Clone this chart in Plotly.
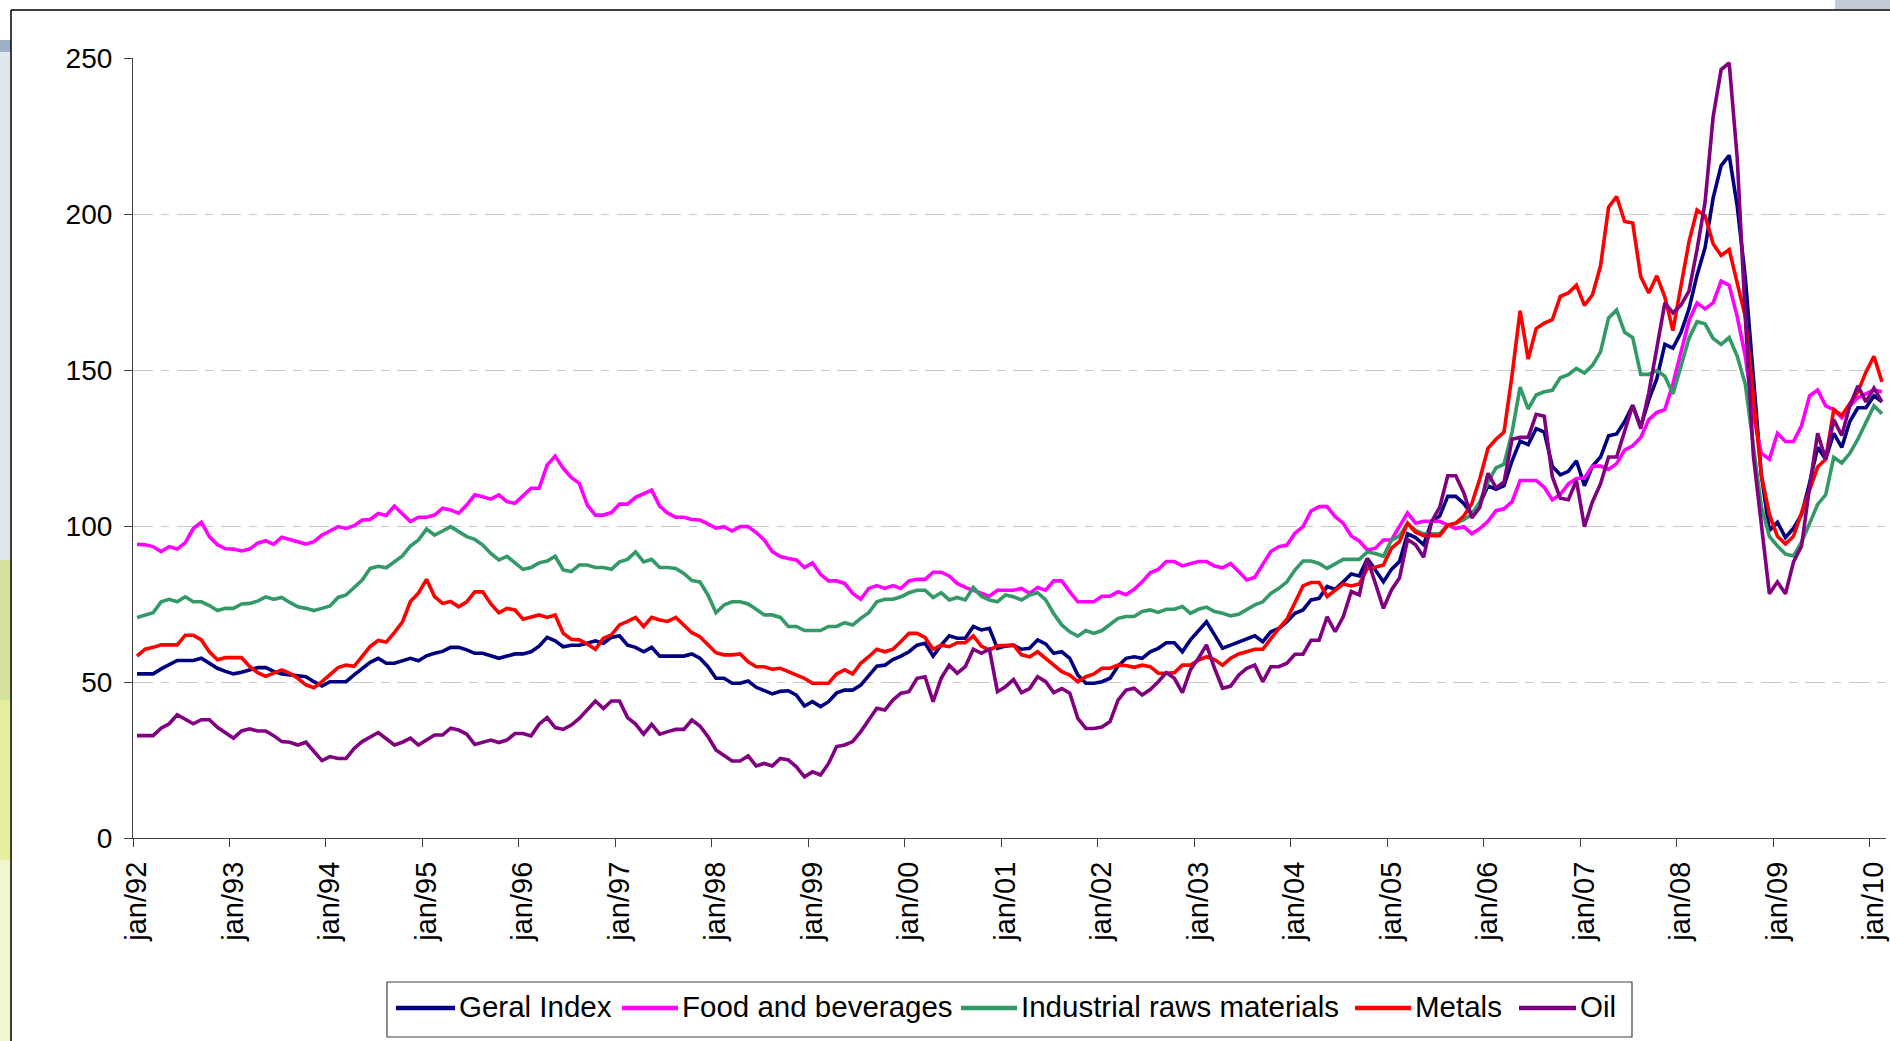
import plotly.graph_objects as go

# ---------------------------------------------------------------------------
# Monthly commodity price indices, jan/1992 - fev/2010
# ---------------------------------------------------------------------------
MONTHS_PT = ["jan", "fev", "mar", "abr", "mai", "jun",
             "jul", "ago", "set", "out", "nov", "dez"]
N_MONTHS = 218
periods = [f"{MONTHS_PT[k % 12]}/{(92 + k // 12) % 100:02d}" for k in range(N_MONTHS)]

geral_index = [
    52.6, 52.6, 52.6, 54.2, 55.5, 56.9, 56.9, 56.9, 57.6, 56.0, 54.4, 53.4,
    52.6, 53.1, 53.9, 54.6, 54.6, 53.4, 52.6, 52.3, 51.9, 51.7, 50.1, 48.7,
    50.1, 50.1, 50.1, 52.3, 54.4, 56.3, 57.6, 56.0, 56.0, 56.9, 57.6, 56.8,
    58.4, 59.2, 59.8, 61.1, 61.1, 60.3, 59.2, 59.2, 58.3, 57.6, 58.3, 59.0,
    59.0, 59.7, 61.5, 64.3, 63.2, 61.3, 61.8, 61.8, 62.4, 63.2, 62.4, 64.3,
    64.8, 61.8, 61.1, 59.7, 61.1, 58.3, 58.3, 58.3, 58.3, 59.0, 57.6, 54.9,
    51.2, 51.2, 49.6, 49.6, 50.3, 48.3, 47.2, 46.2, 47.0, 47.2, 45.8, 42.3,
    43.7, 42.1, 43.7, 46.5, 47.4, 47.4, 49.0, 52.2, 55.1, 55.4, 57.2, 58.3,
    59.7, 61.8, 62.4, 58.3, 61.8, 64.8, 64.0, 64.0, 67.8, 66.7, 67.2, 60.8,
    61.5, 61.8, 60.5, 60.8, 63.5, 62.2, 59.2, 59.7, 57.6, 52.2, 49.6, 49.6,
    50.1, 51.2, 55.1, 57.6, 58.1, 57.6, 59.7, 60.8, 62.6, 62.6, 59.7, 63.5,
    66.5, 69.3, 65.1, 60.8, 61.8, 62.9, 63.7, 64.8, 62.9, 66.1, 67.2, 69.3,
    72.0, 73.1, 76.3, 76.8, 80.6, 79.7, 82.1, 84.6, 84.0, 89.6, 85.9, 82.1,
    86.1, 88.6, 97.5, 96.3, 94.0, 101.5, 103.2, 109.5, 109.5, 107.2, 103.8, 107.2,
    112.9, 111.8, 112.9, 120.9, 127.2, 126.1, 131.2, 130.1, 119.2, 116.4, 117.5, 120.9,
    112.9, 119.2, 122.1, 128.9, 129.5, 133.5, 138.7, 131.8, 140.4, 147.2, 158.2, 157.0,
    162.0, 169.6, 180.4, 189.2, 205.1, 215.5, 218.8, 202.5, 179.7, 146.8, 116.3, 98.6,
    101.2, 96.3, 99.3, 103.7, 113.8, 125.2, 121.4, 129.7, 125.2, 133.5, 137.9, 137.9,
    141.7, 139.8,
]

food_beverages = [
    94.1, 94.0, 93.4, 91.8, 93.4, 92.6, 94.7, 99.2, 101.2, 96.6, 94.0, 92.7,
    92.6, 92.0, 92.6, 94.5, 95.3, 94.1, 96.4, 95.7, 95.0, 94.2, 95.0, 97.1,
    98.4, 99.8, 99.2, 100.1, 101.9, 102.1, 104.0, 103.4, 106.4, 104.0, 101.4, 102.8,
    102.8, 103.5, 105.7, 105.1, 104.1, 106.7, 110.0, 109.4, 108.6, 110.0, 107.8, 107.3,
    109.6, 112.1, 112.1, 119.5, 122.4, 118.5, 115.6, 113.7, 106.7, 103.5, 103.5, 104.3,
    107.0, 107.0, 109.2, 110.3, 111.5, 106.4, 104.1, 102.8, 102.8, 102.1, 101.9, 100.7,
    99.3, 99.8, 98.4, 99.8, 99.8, 97.9, 95.5, 91.8, 90.2, 89.6, 89.1, 86.7,
    88.2, 84.5, 82.4, 82.4, 81.6, 78.4, 76.5, 80.0, 80.9, 80.0, 80.9, 80.0,
    82.4, 82.9, 82.9, 85.2, 85.2, 84.0, 81.6, 80.3, 79.4, 78.4, 77.5, 79.4,
    79.4, 79.4, 80.0, 78.4, 80.3, 79.4, 82.4, 82.4, 78.9, 75.7, 75.7, 75.7,
    77.5, 77.5, 78.9, 78.0, 79.7, 82.1, 85.0, 86.1, 88.6, 88.6, 87.2, 88.0,
    88.6, 88.6, 87.2, 86.6, 88.0, 85.4, 82.7, 83.6, 87.5, 91.8, 93.4, 93.9,
    97.7, 99.8, 104.8, 106.2, 106.2, 103.0, 100.9, 96.8, 95.2, 92.3, 92.9, 95.5,
    95.5, 99.8, 104.2, 100.9, 101.5, 101.5, 101.5, 100.3, 99.2, 99.8, 97.5, 99.2,
    101.5, 104.9, 105.5, 107.8, 114.6, 114.6, 114.6, 112.4, 108.4, 110.1, 113.5, 115.2,
    115.4, 119.2, 119.2, 118.1, 120.0, 124.3, 125.7, 128.4, 134.1, 136.4, 137.3, 145.5,
    155.6, 165.8, 171.5, 169.6, 171.5, 178.5, 177.2, 167.1, 154.4, 135.4, 123.3, 121.4,
    129.7, 127.1, 127.1, 132.2, 141.7, 143.6, 138.5, 137.3, 134.7, 138.5, 141.1, 142.3,
    143.6, 143.0,
]

industrial_raws = [
    70.7, 71.4, 72.2, 75.7, 76.5, 75.7, 77.3, 75.7, 75.7, 74.5, 72.9, 73.6,
    73.6, 75.0, 75.2, 75.9, 77.3, 76.5, 77.1, 75.5, 74.1, 73.6, 72.9, 73.6,
    74.4, 77.1, 77.9, 80.3, 82.7, 86.4, 87.1, 86.6, 88.5, 90.4, 93.6, 95.5,
    99.0, 97.1, 98.4, 99.8, 98.2, 96.6, 95.7, 93.9, 91.2, 89.1, 90.3, 88.2,
    86.1, 86.7, 88.2, 88.8, 90.3, 85.9, 85.4, 87.5, 87.5, 86.7, 86.7, 86.1,
    88.5, 89.3, 91.7, 88.5, 89.3, 86.7, 86.7, 86.4, 84.8, 82.5, 82.1, 77.9,
    72.2, 74.7, 75.7, 75.7, 75.0, 73.3, 71.5, 71.5, 70.7, 67.8, 67.8, 66.5,
    66.5, 66.5, 67.8, 67.8, 69.0, 68.3, 70.4, 72.2, 75.7, 76.5, 76.5, 77.3,
    78.6, 79.4, 79.4, 77.1, 78.6, 76.3, 77.1, 76.3, 80.3, 77.5, 76.3, 75.7,
    77.9, 77.3, 76.3, 77.9, 78.6, 76.3, 71.9, 68.3, 66.1, 64.7, 66.5, 65.6,
    66.5, 68.3, 70.4, 71.0, 71.0, 72.6, 73.1, 72.3, 73.3, 73.3, 74.2, 72.0,
    73.3, 74.0, 72.6, 72.0, 71.2, 71.7, 73.3, 74.7, 75.7, 78.4, 80.0, 82.1,
    85.9, 88.8, 88.8, 88.0, 86.4, 88.0, 89.3, 89.3, 89.3, 91.7, 91.2, 90.3,
    95.5, 96.8, 100.9, 98.6, 97.5, 97.5, 97.5, 100.3, 100.9, 102.0, 103.7, 107.8,
    114.1, 118.6, 119.8, 130.1, 144.5, 137.5, 142.0, 143.0, 143.5, 147.5, 148.5, 150.5,
    149.0, 151.5, 155.8, 166.7, 169.2, 162.1, 160.4, 148.6, 148.6, 149.8, 148.0, 142.3,
    151.0, 160.1, 165.5, 164.8, 160.1, 158.2, 160.4, 154.4, 145.5, 126.5, 106.2, 96.7,
    93.6, 91.0, 90.4, 94.8, 101.2, 106.9, 110.0, 122.0, 120.2, 123.3, 127.8, 132.9,
    138.5, 136.0,
]

metals = [
    58.3, 60.5, 61.1, 61.9, 61.9, 61.9, 65.0, 65.0, 63.5, 59.7, 57.1, 57.8,
    57.8, 57.8, 55.0, 53.0, 51.8, 52.8, 53.9, 52.8, 51.2, 49.1, 48.2, 50.1,
    52.3, 54.6, 55.4, 55.0, 58.2, 61.4, 63.3, 62.8, 65.8, 69.2, 75.8, 78.5,
    82.9, 77.4, 75.2, 75.8, 74.1, 75.7, 78.9, 78.9, 75.0, 72.2, 73.6, 73.1,
    70.1, 70.7, 71.5, 70.7, 71.5, 65.6, 63.7, 63.5, 62.2, 60.5, 64.0, 65.1,
    68.3, 69.4, 70.7, 67.8, 70.7, 69.9, 69.4, 70.7, 68.3, 65.8, 64.5, 61.8,
    59.4, 58.7, 58.7, 59.0, 56.5, 54.9, 54.9, 54.1, 54.4, 53.3, 52.2, 51.2,
    49.6, 49.6, 49.6, 52.6, 53.9, 52.6, 56.0, 58.1, 60.5, 59.7, 60.5, 63.0,
    65.6, 65.6, 64.3, 60.5, 61.8, 61.3, 62.6, 62.6, 64.8, 61.5, 60.2, 61.6,
    61.8, 61.8, 58.7, 58.1, 59.7, 57.6, 55.2, 53.3, 52.2, 50.1, 51.7, 52.6,
    54.4, 54.4, 55.4, 55.3, 54.7, 55.4, 54.9, 52.8, 52.8, 53.0, 55.4, 55.4,
    57.0, 58.1, 57.2, 55.4, 57.6, 59.0, 59.7, 60.5, 60.5, 64.0, 67.2, 70.1,
    75.8, 80.8, 81.9, 81.9, 77.4, 79.5, 81.4, 80.8, 81.4, 86.4, 86.8, 87.5,
    92.9, 95.0, 100.9, 98.0, 96.9, 96.9, 96.9, 100.3, 100.9, 103.2, 107.2, 115.2,
    124.9, 127.8, 130.1, 148.4, 169.0, 153.5, 163.3, 165.0, 166.1, 173.6, 174.7, 177.2,
    170.7, 174.1, 183.3, 202.2, 205.6, 197.6, 197.1, 179.9, 174.7, 180.2, 173.4, 162.6,
    177.2, 191.1, 201.3, 199.4, 190.5, 186.7, 188.6, 177.2, 167.1, 141.7, 116.3, 103.7,
    96.7, 94.2, 96.7, 104.3, 111.3, 118.9, 121.4, 137.3, 135.4, 139.2, 143.0, 149.3,
    154.4, 146.2,
]

oil = [
    32.8, 32.8, 32.8, 35.2, 36.6, 39.5, 38.1, 36.6, 37.9, 37.9, 35.5, 33.6,
    32.0, 34.3, 35.0, 34.3, 34.3, 32.8, 30.9, 30.7, 29.8, 30.7, 27.7, 24.8,
    26.1, 25.5, 25.5, 28.7, 30.9, 32.5, 33.8, 31.8, 29.8, 30.7, 32.0, 29.8,
    31.4, 33.0, 33.0, 35.2, 34.6, 33.3, 30.0, 30.6, 31.4, 30.6, 31.4, 33.5,
    33.5, 32.7, 36.5, 38.6, 35.4, 34.8, 36.2, 38.3, 41.3, 43.9, 41.5, 43.9,
    43.9, 38.6, 36.5, 33.3, 36.4, 33.3, 34.1, 34.8, 34.8, 37.8, 35.9, 32.5,
    28.2, 26.3, 24.7, 24.7, 26.3, 23.1, 23.9, 23.1, 25.5, 25.0, 22.8, 19.6,
    21.2, 20.2, 23.9, 29.3, 29.8, 30.9, 34.1, 37.8, 41.6, 41.0, 44.2, 46.4,
    46.9, 51.2, 51.7, 43.7, 51.2, 55.4, 52.8, 54.9, 60.5, 59.2, 60.5, 46.9,
    48.5, 50.8, 46.6, 47.9, 51.7, 50.1, 46.6, 47.9, 46.4, 38.3, 35.1, 35.1,
    35.6, 37.3, 44.2, 47.4, 48.0, 45.8, 47.6, 50.1, 53.0, 51.2, 46.6, 53.9,
    57.6, 61.9, 54.4, 48.0, 48.7, 52.2, 54.4, 55.4, 50.1, 54.9, 54.9, 56.0,
    58.9, 58.9, 63.4, 63.4, 70.9, 66.1, 70.9, 79.0, 77.9, 89.6, 81.6, 73.6,
    79.5, 83.3, 95.7, 94.0, 90.0, 101.5, 106.0, 116.1, 116.1, 110.6, 102.6, 106.0,
    116.9, 112.3, 114.1, 127.8, 128.4, 128.4, 135.8, 135.2, 115.8, 108.9, 108.4, 114.6,
    99.8, 107.8, 113.5, 122.1, 122.1, 130.1, 138.7, 131.2, 142.7, 157.0, 171.5, 168.3,
    170.8, 175.3, 188.6, 203.8, 231.1, 246.3, 248.4, 217.8, 167.1, 122.7, 101.2, 78.3,
    82.1, 78.3, 88.5, 93.6, 112.6, 129.7, 121.4, 134.1, 129.0, 138.5, 144.9, 139.8,
    144.2, 139.8,
]

series_names = ["Geral Index", "Food and beverages", "Industrial raws materials",
                "Metals", "Oil"]
series_values = [geral_index, food_beverages, industrial_raws, metals, oil]
series_colors = ["#000080", "#FF00FF", "#339966", "#FF0000", "#800080"]

y_ticks = [0, 50, 100, 150, 200, 250]

# ---------------------------------------------------------------------------
# Page geometry (pixels) and helpers to place decorations in paper units
# ---------------------------------------------------------------------------
W, H = 1890, 1041
PLOT_L, PLOT_R, PLOT_T, PLOT_B = 133, 1886, 58, 838
FONT = "Liberation Sans, Arial, sans-serif"


def px_x(px):
    return (px - PLOT_L) / (PLOT_R - PLOT_L)


def px_y(py):
    return (PLOT_B - py) / (PLOT_B - PLOT_T)


x_index = list(range(N_MONTHS))
year_starts = list(range(0, N_MONTHS, 12))

fig = go.Figure()
for name, vals, color in zip(series_names, series_values, series_colors):
    fig.add_trace(go.Scatter(
        x=x_index, y=vals, mode="lines", name=name,
        customdata=periods,
        hovertemplate="%{customdata}: %{y:.1f}<extra>" + name + "</extra>",
        line=dict(color=color, width=3.6),
        showlegend=False,
    ))

shapes = []
annotations = []

# slide background visible to the left of the chart frame
shapes += [
    dict(type="rect", xref="paper", yref="paper", layer="below",
         x0=px_x(0), x1=px_x(11), y0=px_y(40), y1=px_y(1041),
         fillcolor="#dfe6ee", line=dict(width=0)),
    dict(type="rect", xref="paper", yref="paper", layer="below",
         x0=px_x(0), x1=px_x(11), y0=px_y(40), y1=px_y(52),
         fillcolor="#9fb0c6", line=dict(width=0)),
    dict(type="rect", xref="paper", yref="paper", layer="below",
         x0=px_x(0), x1=px_x(11), y0=px_y(560), y1=px_y(700),
         fillcolor="#d4e29a", line=dict(width=0)),
    dict(type="rect", xref="paper", yref="paper", layer="below",
         x0=px_x(0), x1=px_x(11), y0=px_y(700), y1=px_y(860),
         fillcolor="#e8ef9c", line=dict(width=0)),
    dict(type="rect", xref="paper", yref="paper", layer="below",
         x0=px_x(0), x1=px_x(11), y0=px_y(860), y1=px_y(1041),
         fillcolor="#f2f5d2", line=dict(width=0)),
    dict(type="rect", xref="paper", yref="paper", layer="below",
         x0=px_x(1835), x1=px_x(1890), y0=px_y(0), y1=px_y(9),
         fillcolor="#c3ccd8", line=dict(width=0)),
]

# chart frame (top and left edges)
shapes += [
    dict(type="line", xref="paper", yref="paper",
         x0=px_x(11), x1=px_x(11), y0=px_y(10), y1=px_y(1041),
         line=dict(color="#000000", width=1.5)),
    dict(type="line", xref="paper", yref="paper",
         x0=px_x(11), x1=px_x(1890), y0=px_y(10), y1=px_y(10),
         line=dict(color="#000000", width=1.5)),
]

# legend box with line samples and labels
legend_left, legend_right, legend_top, legend_bottom = 387, 1632, 982, 1037
legend_mid = 1006
legend_line_x = [(396, 455), (622, 678), (961, 1017), (1355, 1411), (1519, 1576)]
shapes.append(dict(type="rect", xref="paper", yref="paper",
                   x0=px_x(legend_left), x1=px_x(legend_right),
                   y0=px_y(legend_top), y1=px_y(legend_bottom),
                   fillcolor="#ffffff", line=dict(color="#404040", width=1.2)))
for (lx0, lx1), name, color in zip(legend_line_x, series_names, series_colors):
    shapes.append(dict(type="line", xref="paper", yref="paper",
                       x0=px_x(lx0), x1=px_x(lx1),
                       y0=px_y(legend_mid + 2), y1=px_y(legend_mid + 2),
                       line=dict(color=color, width=4.5)))
    annotations.append(dict(xref="paper", yref="paper",
                            x=px_x(lx1 + 2), y=px_y(legend_mid),
                            xanchor="left", yanchor="middle", showarrow=False,
                            text=name, font=dict(family=FONT, size=29.5, color="#000000")))

fig.update_layout(
    width=W, height=H,
    template="none",
    margin=dict(l=PLOT_L, r=W - PLOT_R, t=PLOT_T, b=H - PLOT_B, pad=0, autoexpand=False),
    paper_bgcolor="#ffffff",
    plot_bgcolor="#ffffff",
    showlegend=False,
    shapes=shapes,
    annotations=annotations,
    font=dict(family=FONT, size=28, color="#000000"),
)

fig.update_xaxes(
    range=[-0.5, N_MONTHS - 0.5],
    tickmode="array",
    tickvals=[k - 0.5 for k in year_starts],
    ticktext=[periods[k] for k in year_starts],
    ticklabelshift=4,
    ticklabelstandoff=3,
    tickangle=-90,
    ticks="outside", ticklen=8, tickwidth=1, tickcolor="#404040",
    tickfont=dict(family=FONT, size=29, color="#000000"),
    showline=True, linecolor="#404040", linewidth=1.2,
    showgrid=False, zeroline=False, automargin=False,
)

fig.update_yaxes(
    range=[0, 250],
    tickmode="array", tickvals=y_ticks,
    ticklabelstandoff=6,
    ticks="outside", ticklen=8, tickwidth=1, tickcolor="#404040",
    tickfont=dict(family=FONT, size=28, color="#000000"),
    showline=True, linecolor="#404040", linewidth=1.2,
    showgrid=True, gridcolor="#c8c8c8", gridwidth=1.2, griddash="20px,8px,8px,8px",
    zeroline=False, automargin=False,
)

fig.write_html("out.html")
